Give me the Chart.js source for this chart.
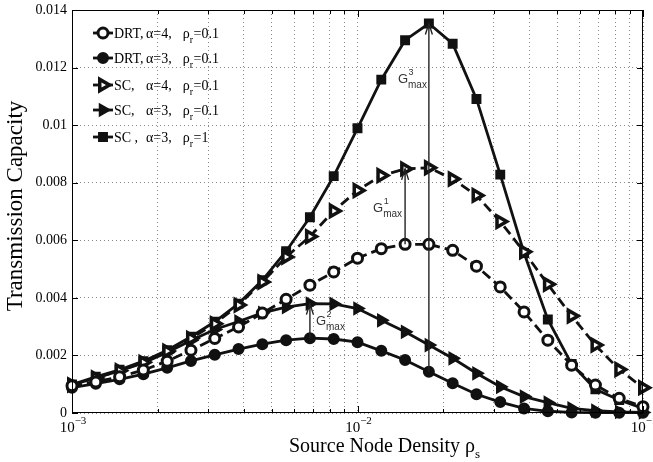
<!DOCTYPE html>
<html lang="en">
<head>
  <meta charset="UTF-8" />
  <title>Transmission Capacity vs Source Node Density</title>
  <script src="https://cdn.jsdelivr.net/npm/chart.js"></script>
  <style>
    html, body { margin: 0; padding: 0; background: #fff; }
  </style>
</head>
<body>
  <canvas id="tcChart" width="653" height="462"></canvas>

  <script>
    // source node density rho_s (12 points per decade)
    const density = [
      0.001, 0.0012115, 0.0014678, 0.0017783, 0.0021544, 0.0026102, 0.0031623, 0.0038312,
      0.0046416, 0.0056234, 0.0068129, 0.008254, 0.01, 0.012115, 0.014678, 0.017783,
      0.021544, 0.026102, 0.031623, 0.038312, 0.046416, 0.056234, 0.068129, 0.08254, 0.1
    ];

    // transmission capacity
    const drtA4 = [0.00095, 0.00108, 0.00126, 0.00149, 0.00180, 0.00218, 0.00259, 0.00299, 0.00347, 0.00395,
                   0.00444, 0.00490, 0.00538, 0.00571, 0.00586, 0.00586, 0.00565, 0.00510, 0.00438, 0.00351,
                   0.00253, 0.00166, 0.00097, 0.00051, 0.00022];
    const drtA3 = [0.00088, 0.00102, 0.00117, 0.00135, 0.00157, 0.00181, 0.00202, 0.00222, 0.00239, 0.00253,
                   0.00260, 0.00257, 0.00246, 0.00216, 0.00184, 0.00143, 0.00103, 0.00065, 0.00038, 0.00016,
                   0.00006, 0.00002, 0.00001, 0.00001, 0.00001];
    const scA4 = [0.00098, 0.00122, 0.00147, 0.00176, 0.00215, 0.00259, 0.00310, 0.00375, 0.00455, 0.00542,
                  0.00613, 0.00702, 0.00773, 0.00825, 0.00848, 0.00852, 0.00813, 0.00756, 0.00665, 0.00560,
                  0.00447, 0.00337, 0.00236, 0.00151, 0.00088];
    const scA3 = [0.00098, 0.00122, 0.00146, 0.00174, 0.00210, 0.00252, 0.00290, 0.00318, 0.00348, 0.00368,
                  0.00380, 0.00379, 0.00363, 0.00322, 0.00282, 0.00236, 0.00190, 0.00138, 0.00091, 0.00057,
                  0.00036, 0.00016, 0.00008, 0.00004, 0.00002];
    const scA3R1 = [0.00099, 0.00126, 0.00150, 0.00180, 0.00218, 0.00265, 0.00317, 0.00380, 0.00461, 0.00562,
                    0.00680, 0.00823, 0.00989, 0.01158, 0.01295, 0.01353, 0.01283, 0.01091, 0.00828, 0.00556,
                    0.00325, 0.00170, 0.00082, 0.00045, 0.00016];

    // axis ticks
    const xGridValues = [0.001, 0.002, 0.003, 0.004, 0.005, 0.006, 0.007, 0.008, 0.009,
                         0.01, 0.02, 0.03, 0.04, 0.05, 0.06, 0.07, 0.08, 0.09, 0.1];
    const xMajorValues = [0.001, 0.01, 0.1];
    const xMajorExps = ['\u22123', '\u22122', '\u22121'];
    const yMin = 0, yMax = 0.014, yStep = 0.002;

    // legend text: name, alpha part, rho part
    const legendNames = ['DRT,', 'DRT,', 'SC,', 'SC,', 'SC ,'];
    const legendAlpha = ['\u03b1=4,', '\u03b1=3,', '\u03b1=4,', '\u03b1=3,', '\u03b1=3,'];
    const legendRho = ['=0.1', '=0.1', '=0.1', '=0.1', '=1'];

    const ink = '#111';
    const serif = '"Liberation Serif", "Times New Roman", serif';
    const sans = '"Liberation Sans", Arial, sans-serif';

    function pts(values) {
      return values.map((v, i) => ({ x: density[i], y: v }));
    }

    function line(label, values, marker) {
      return Object.assign({
        label: label,
        data: pts(values),
        borderColor: ink,
        borderWidth: 2.8,
        pointBorderColor: ink,
        pointBorderWidth: 2,
        pointBackgroundColor: ink,
        tension: 0,
        fill: false,
        clip: false
      }, marker);
    }

    const datasets = [
      line('DRT, a=4, r=0.1', drtA4, { borderDash: [10, 5], pointStyle: 'circle', pointRadius: 5, pointBackgroundColor: '#fff', pointBorderWidth: 3 }),
      line('DRT, a=3, r=0.1', drtA3, { pointStyle: 'circle', pointRadius: 5 }),
      line('SC, a=4, r=0.1', scA4, { borderDash: [10, 5], pointStyle: 'triangle', pointRotation: 90, pointRadius: 6.5, pointBackgroundColor: '#fff', pointBorderWidth: 3.5 }),
      line('SC, a=3, r=0.1', scA3, { pointStyle: 'triangle', pointRotation: 90, pointRadius: 6.5 }),
      line('SC, a=3, r=1', scA3R1, { pointStyle: 'rect', pointRadius: 5.6 })
    ];

    // gain arrows: index into density, lower series, upper series
    const gains = [
      { sup: '1', k: 14, from: drtA4, to: scA4, dx: -32, ly: 0.00697 },
      { sup: '2', k: 10, from: drtA3, to: scA3, dx: 6, ly: 0.00305 },
      { sup: '3', k: 15, from: drtA3, to: scA3R1, dx: -31, ly: 0.01147 }
    ];

    function drawArrow(ctx, x, yFrom, yTo) {
      ctx.beginPath();
      ctx.moveTo(x, yFrom);
      ctx.lineTo(x, yTo);
      ctx.stroke();
      ctx.beginPath();
      ctx.moveTo(x - 3.5, yTo + 11);
      ctx.lineTo(x, yTo);
      ctx.lineTo(x + 3.5, yTo + 11);
      ctx.stroke();
    }

    const decorations = {
      id: 'decorations',
      afterDraw(chart) {
        const ctx = chart.ctx;
        const xs = chart.scales.x, ys = chart.scales.y;
        const a = chart.chartArea;
        ctx.save();

        // box and inward ticks
        ctx.strokeStyle = '#000';
        ctx.lineWidth = 1;
        ctx.setLineDash([]);
        ctx.strokeRect(a.left + 0.5, a.top + 0.5, a.right - a.left - 1, a.bottom - a.top - 1);
        ctx.beginPath();
        xGridValues.forEach(v => {
          const px = Math.round(xs.getPixelForValue(v)) + 0.5;
          const len = xMajorValues.includes(v) ? 7 : 4;
          ctx.moveTo(px, a.bottom); ctx.lineTo(px, a.bottom - len);
          ctx.moveTo(px, a.top); ctx.lineTo(px, a.top + len);
        });
        for (let v = yMin; v <= yMax + 1e-9; v += yStep) {
          const py = Math.round(ys.getPixelForValue(v)) + 0.5;
          ctx.moveTo(a.left, py); ctx.lineTo(a.left + 6, py);
          ctx.moveTo(a.right, py); ctx.lineTo(a.right - 6, py);
        }
        ctx.stroke();

        // x tick labels 10^n
        ctx.fillStyle = '#000';
        ctx.textBaseline = 'alphabetic';
        xMajorValues.forEach((v, i) => {
          ctx.font = '15px ' + serif;
          const wBase = ctx.measureText('10').width;
          ctx.font = '11px ' + serif;
          const wExp = ctx.measureText(xMajorExps[i]).width;
          const x0 = xs.getPixelForValue(v) - (wBase + wExp) / 2 + 1;
          ctx.font = '15px ' + serif;
          ctx.fillText('10', x0, 432);
          ctx.font = '11px ' + serif;
          ctx.fillText(xMajorExps[i], x0 + wBase, 424);
        });

        // axis titles
        ctx.font = '20px ' + serif;
        const xt = 'Source Node Density \u03c1';
        const xtW = ctx.measureText(xt).width;
        const xtLeft = 289;
        ctx.fillText(xt, xtLeft, 452);
        ctx.font = '13px ' + serif;
        ctx.fillText('s', xtLeft + xtW, 458);

        ctx.save();
        ctx.translate(22, 206);
        ctx.rotate(-Math.PI / 2);
        ctx.font = '23px ' + serif;
        ctx.textAlign = 'center';
        ctx.fillText('Transmission Capacity', 0, 0);
        ctx.restore();

        // gain arrows and labels
        ctx.strokeStyle = '#222';
        ctx.lineWidth = 1.4;
        gains.forEach(g => {
          const px = xs.getPixelForValue(density[g.k]);
          drawArrow(ctx, px, ys.getPixelForValue(g.from[g.k]), ys.getPixelForValue(g.to[g.k]));
          const lx = px + g.dx, ly = ys.getPixelForValue(g.ly);
          ctx.fillStyle = '#333';
          ctx.font = '13px ' + sans;
          ctx.fillText('G', lx, ly);
          const gw = ctx.measureText('G').width;
          ctx.font = '9px ' + sans;
          ctx.fillText(g.sup, lx + gw + 0.5, ly - 8);
          ctx.font = '10px ' + sans;
          ctx.fillText('max', lx + gw, ly + 5);
        });

        // legend
        const rowY = [33, 58, 85, 110, 137];
        datasets.forEach((ds, i) => {
          const y = rowY[i];
          ctx.strokeStyle = ink;
          ctx.lineWidth = 2.8;
          ctx.setLineDash([]);
          ctx.beginPath();
          ctx.moveTo(93, y); ctx.lineTo(113, y);
          ctx.stroke();
          ctx.fillStyle = ds.pointBackgroundColor;
          ctx.strokeStyle = ink;
          ctx.lineWidth = ds.pointBorderWidth;
          Chart.helpers.drawPoint(ctx, {
            pointStyle: ds.pointStyle,
            rotation: ds.pointRotation || 0,
            radius: ds.pointRadius,
            borderWidth: ds.pointBorderWidth
          }, 103, y);

          ctx.fillStyle = '#000';
          ctx.font = '14px ' + serif;
          ctx.fillText(legendNames[i], 114, y + 5);
          const nameEnd = 114 + ctx.measureText(legendNames[i]).width;
          const alphaX = Math.max(nameEnd + 0.5, 146);
          ctx.fillText(legendAlpha[i], alphaX, y + 5);
          const rhoX = alphaX + ctx.measureText(legendAlpha[i]).width + 11;
          ctx.fillText('\u03c1', rhoX, y + 5);
          const rw = ctx.measureText('\u03c1').width;
          ctx.font = '10px ' + serif;
          ctx.fillText('r', rhoX + rw, y + 10);
          const sw = ctx.measureText('r').width;
          ctx.font = '14px ' + serif;
          ctx.fillText(legendRho[i], rhoX + rw + sw + 0.5, y + 5);
        });

        ctx.restore();
      }
    };

    new Chart(document.getElementById('tcChart').getContext('2d'), {
      type: 'line',
      data: { datasets: datasets },
      options: {
        responsive: false,
        animation: false,
        devicePixelRatio: 1,
        layout: { padding: { top: 9, right: 9, left: 0, bottom: 0 } },
        plugins: { legend: { display: false }, tooltip: { enabled: false } },
        scales: {
          x: {
            type: 'logarithmic',
            min: 0.001,
            max: 0.1,
            afterBuildTicks: scale => { scale.ticks = xGridValues.map(v => ({ value: v })); },
            afterFit: scale => { scale.height = 49; scale.paddingLeft = 0; scale.paddingRight = 0; },
            ticks: { display: false },
            grid: { color: '#8a8a8a', lineWidth: 1, drawTicks: false },
            border: { display: false, dash: [1, 3] }
          },
          y: {
            type: 'linear',
            min: yMin,
            max: yMax,
            afterFit: scale => { scale.width = 72; scale.paddingTop = 0; scale.paddingBottom = 0; },
            ticks: {
              stepSize: yStep,
              padding: 5,
              color: '#000',
              font: { family: serif, size: 14 },
              callback: v => String(+v.toFixed(3))
            },
            grid: { color: '#8a8a8a', lineWidth: 1, drawTicks: false },
            border: { display: false, dash: [1, 3] }
          }
        }
      },
      plugins: [decorations]
    });
  </script>
</body>
</html>
